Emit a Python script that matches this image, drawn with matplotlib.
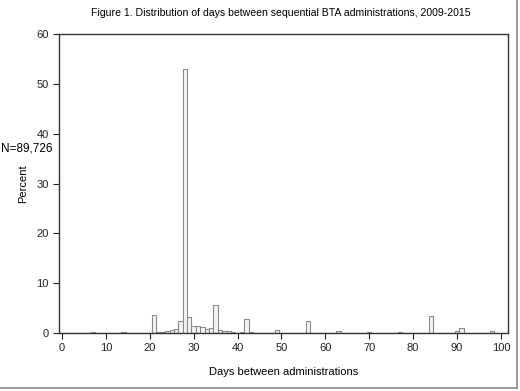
import matplotlib
matplotlib.use("Agg")
import matplotlib.pyplot as plt
from matplotlib.lines import Line2D
import numpy as np

plt.rcParams['font.family'] = ['Liberation Sans', 'DejaVu Sans']

# Jours entre administrations et pourcentages
jours = list(range(0, 100))
pourcent = [0.0] * 100
valeurs = {
    1: 0.1, 7: 0.3, 14: 0.3, 20: 0.1, 21: 3.6, 22: 0.3, 23: 0.3, 24: 0.5,
    25: 0.6, 26: 0.8, 27: 2.5, 28: 53.0, 29: 3.3, 30: 1.5, 31: 1.5, 32: 1.2,
    33: 0.9, 34: 1.0, 35: 5.7, 36: 0.6, 37: 0.4, 38: 0.4, 39: 0.3, 40: 0.1,
    41: 0.3, 42: 2.75, 43: 0.2, 44: 0.1, 45: 0.1, 46: 0.1, 47: 0.1, 48: 0.1,
    49: 0.7, 55: 0.1, 56: 2.35, 57: 0.1, 63: 0.5, 70: 0.3, 77: 0.2, 83: 0.1,
    84: 3.4, 85: 0.1, 90: 0.5, 91: 1.1, 92: 0.1, 98: 0.35,
}
for j, v in valeurs.items():
    pourcent[j] = v

x_ticks = [0, 10, 20, 30, 40, 50, 60, 70, 80, 90, 100]
y_ticks = [0, 10, 20, 30, 40, 50, 60]

fig = plt.figure(figsize=(5.2, 3.91), dpi=100)
ax = fig.add_axes([59 / 520, 1 - 333 / 391, 449 / 520, 299 / 391])

ax.bar(jours, pourcent, width=1.0, align='center', color='#f4f4f4',
       edgecolor='#8a8a8a', linewidth=0.8)

ax.set_xlim(-0.68, 101.6)
ax.set_ylim(0, 60)
ax.set_xticks(x_ticks)
ax.set_yticks(y_ticks)
ax.tick_params(direction='out', length=4, width=0.8, labelsize=8, colors='#222222')
for s in ax.spines.values():
    s.set_color('#333333')
    s.set_linewidth(1.0)

ax.set_xlabel("Days between administrations", fontsize=8, labelpad=10)
ax.set_ylabel("Percent", fontsize=8, labelpad=6)
fig.text(281 / 520, 1 - 13 / 391, "Figure 1. Distribution of days between sequential BTA administrations, 2009-2015",
         ha='center', va='center', fontsize=7.6)
fig.text(1 / 520, 1 - 148 / 391, "N=89,726", ha='left', va='center', fontsize=8.5)

# cadre gris autour de la figure
fig.add_artist(Line2D([517 / 520, 517 / 520], [1 - 388 / 391, 1.0], transform=fig.transFigure,
                      color='#8a8a8a', linewidth=1.2))
fig.add_artist(Line2D([0, 517 / 520], [1 - 388 / 391, 1 - 388 / 391], transform=fig.transFigure,
                      color='#8a8a8a', linewidth=1.2))

fig.savefig("out.png", dpi=100)
